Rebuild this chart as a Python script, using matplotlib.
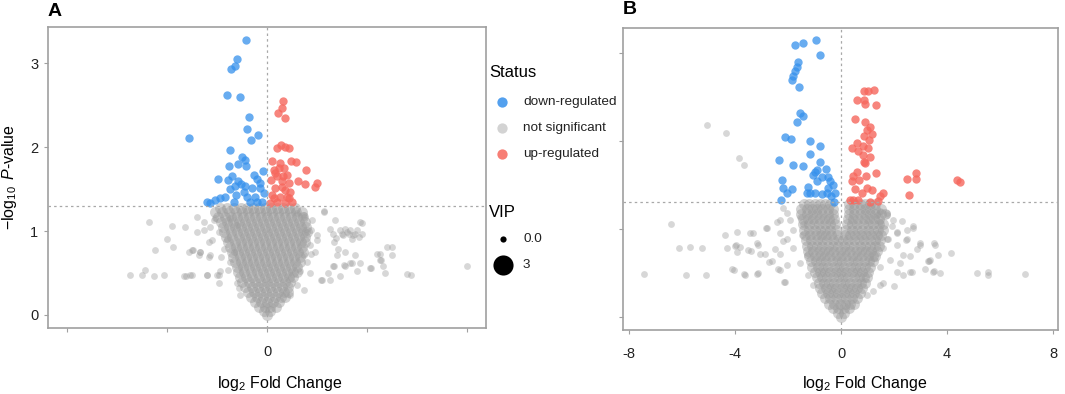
import numpy as np
import matplotlib.pyplot as plt

plt.rcParams['font.family'] = ['Liberation Sans', 'DejaVu Sans']
plt.rcParams['mathtext.fontset'] = 'custom'
plt.rcParams['mathtext.rm'] = 'Liberation Sans'
plt.rcParams['mathtext.it'] = 'Liberation Sans:italic'
plt.rcParams['axes.unicode_minus'] = False

# ---------------- panel A ----------------
a_down_x = [-0.42, -0.61, -0.65, -0.72, -0.80, -0.55, -0.37, -0.40, -0.18, -0.33,
            -1.56, -0.74, -0.50, -0.45, -0.76, -0.59, -0.42, -0.09, -0.71, -0.27,
            -0.99, -0.78, -0.21, -0.14, -0.53, -0.44, -0.64, -0.74, -0.31, -0.15,
            -0.84, -0.62, -0.41, -1.04, -1.21, -1.14, -0.67, -0.34, -0.21, -0.11,
            -0.24, -0.47, -0.58, -0.07, -0.94]
a_down_y = [3.27, 3.05, 2.97, 2.93, 2.62, 2.60, 2.36, 2.21, 2.14, 2.09,
            2.11, 1.96, 1.88, 1.85, 1.78, 1.80, 1.77, 1.72, 1.66, 1.67,
            1.62, 1.61, 1.62, 1.57, 1.56, 1.54, 1.54, 1.50, 1.51, 1.51,
            1.41, 1.43, 1.41, 1.37, 1.35, 1.33, 1.35, 1.35, 1.35, 1.34,
            1.41, 1.47, 1.59, 1.45, 1.39]
a_up_x = [0.31, 0.29, 0.21, 0.36, 0.19, 0.27, 0.36, 0.44, 0.09, 0.26,
          0.47, 0.57, 0.77, 0.13, 0.33, 0.19, 0.39, 0.08, 0.29, 0.61,
          0.76, 0.99, 0.96, 0.16, 0.36, 0.46, 0.09, 0.26, 0.43, 0.06,
          0.19, 0.36, 0.49, 0.16, 0.29, 0.13, 0.39, 0.23, 0.31, 0.43]
a_up_y = [2.55, 2.47, 2.40, 2.35, 1.99, 2.03, 2.00, 1.99, 1.83, 1.81,
          1.83, 1.82, 1.73, 1.73, 1.75, 1.65, 1.67, 1.61, 1.59, 1.59,
          1.56, 1.57, 1.53, 1.51, 1.49, 1.47, 1.43, 1.41, 1.39, 1.33,
          1.35, 1.33, 1.35, 1.69, 1.53, 1.39, 1.41, 1.75, 1.65, 1.57]

# dense not-significant cone, read row by row (y, x values)
a_core = [
    (0.00, [0.0]),
    (0.05, [-0.07, 0.06]),
    (0.10, [-0.17, -0.05, 0.06, 0.17]),
    (0.15, [-0.24, -0.12, 0.0, 0.12, 0.23]),
    (0.21, [-0.32, -0.2, -0.08, 0.04, 0.16, 0.28, 0.36]),
    (0.27, [-0.38, -0.26, -0.14, -0.02, 0.1, 0.22, 0.34, 0.42]),
    (0.33, [-0.44, -0.31, -0.19, -0.07, 0.05, 0.17, 0.29, 0.41]),
    (0.39, [-0.5, -0.37, -0.24, -0.12, 0.0, 0.12, 0.24, 0.36, 0.46]),
    (0.45, [-0.55, -0.42, -0.3, -0.17, -0.05, 0.07, 0.19, 0.31, 0.43, 0.52]),
    (0.51, [-0.58, -0.46, -0.33, -0.21, -0.09, 0.03, 0.15, 0.27, 0.39, 0.51, 0.6]),
    (0.57, [-0.6, -0.48, -0.36, -0.24, -0.12, 0.0, 0.12, 0.24, 0.36, 0.48, 0.6]),
    (0.63, [-0.64, -0.52, -0.4, -0.28, -0.16, -0.04, 0.08, 0.2, 0.32, 0.44, 0.56, 0.66]),
    (0.69, [-0.68, -0.55, -0.43, -0.31, -0.19, -0.07, 0.05, 0.17, 0.29, 0.41, 0.53, 0.66]),
    (0.75, [-0.7, -0.58, -0.46, -0.34, -0.22, -0.1, 0.02, 0.14, 0.26, 0.38, 0.5, 0.62, 0.72]),
    (0.81, [-0.74, -0.62, -0.5, -0.38, -0.26, -0.14, -0.02, 0.1, 0.22, 0.34, 0.46, 0.58, 0.7]),
    (0.87, [-0.78, -0.65, -0.53, -0.41, -0.29, -0.17, -0.05, 0.07, 0.19, 0.31, 0.43, 0.55, 0.68, 0.76]),
    (0.93, [-0.82, -0.7, -0.57, -0.45, -0.33, -0.21, -0.09, 0.03, 0.15, 0.27, 0.39, 0.51, 0.63, 0.75]),
    (0.99, [-0.86, -0.73, -0.61, -0.49, -0.37, -0.25, -0.13, -0.01, 0.11, 0.23, 0.35, 0.47, 0.59, 0.71, 0.79]),
    (1.05, [-0.88, -0.76, -0.64, -0.52, -0.4, -0.28, -0.16, -0.04, 0.08, 0.2, 0.32, 0.44, 0.56, 0.68, 0.78]),
    (1.11, [-0.92, -0.8, -0.68, -0.56, -0.44, -0.32, -0.2, -0.08, 0.04, 0.16, 0.28, 0.4, 0.52, 0.64, 0.75]),
    (1.17, [-0.98, -0.85, -0.72, -0.6, -0.48, -0.36, -0.24, -0.12, 0.0, 0.12, 0.24, 0.36, 0.48, 0.6, 0.72]),
    (1.23, [-1.05, -0.9, -0.76, -0.62, -0.5, -0.38, -0.26, -0.14, -0.02, 0.1, 0.22, 0.34, 0.46, 0.58, 0.7]),
    (1.28, [-0.95, -0.8, -0.66, -0.52, -0.4, -0.28, -0.16, -0.04, 0.08, 0.2, 0.32, 0.44, 0.56]),
]

# scattered not-significant points (x, y)
a_ns = [(-2.37, 1.11), (-1.91, 1.06), (-1.65, 1.05), (-2.01, 0.90), (-2.24, 0.77),
        (-1.89, 0.81), (-1.48, 0.77), (-1.35, 0.75), (-2.44, 0.54), (-2.75, 0.48),
        (-2.51, 0.48), (-2.27, 0.46), (-1.62, 0.46), (-1.51, 0.48), (-1.20, 0.48),
        (-1.00, 0.48), (-0.96, 0.38), (-1.27, 1.01), (-1.06, 1.13), (-1.17, 0.69),
        (-1.10, 0.89), (-0.93, 0.69), (-1.41, 1.17), (-0.79, 0.54), (-1.14, 1.05),
        (-0.97, 0.99), (-1.27, 1.11), (-0.81, 0.91), (-0.87, 0.79), (-1.14, 0.71),
        (-0.74, 0.63), (-1.51, 0.77), (-1.34, 0.75), (-1.17, 0.87), (-0.94, 0.52),
        (-0.97, 0.48), (-1.21, 0.48), (-0.61, 0.38), (-0.54, 0.24), (-0.57, 0.32),
        (-1.04, 1.15), (-0.74, 1.15), (-0.61, 1.07), (-0.67, 0.75), (-2.07, 0.48),
        (-1.57, 0.75), (-1.37, 0.71), (-1.41, 0.99), (-1.67, 0.46), (-1.54, 0.48),
        (1.14, 1.24), (1.35, 1.13), (1.89, 1.10), (1.32, 0.97), (1.45, 1.01),
        (1.56, 1.03), (1.66, 1.01), (1.76, 0.97), (1.83, 0.93), (1.69, 0.91),
        (1.52, 0.95), (1.38, 0.92), (1.63, 0.97), (1.80, 1.01), (1.59, 0.99),
        (1.49, 0.97), (1.72, 0.95), (1.42, 0.79), (1.56, 0.75), (1.76, 0.71),
        (1.32, 0.58), (1.56, 0.58), (1.69, 0.62), (2.07, 0.56), (2.25, 0.73),
        (2.28, 0.65), (2.32, 0.58), (2.49, 0.81), (2.49, 0.72), (2.35, 0.50),
        (2.80, 0.49), (2.87, 0.48), (4.00, 0.58), (1.07, 0.42), (1.21, 0.50),
        (0.87, 0.73), (1.00, 0.89), (0.73, 1.17), (0.87, 1.01), (0.73, 0.30),
        (0.59, 1.21), (1.90, 0.97), (0.73, 1.19), (0.89, 1.13), (1.13, 1.23),
        (0.79, 0.99), (0.99, 0.95), (0.86, 0.83), (0.73, 0.71), (0.96, 0.75),
        (0.79, 0.63), (0.66, 0.52), (0.86, 0.50), (0.59, 0.36), (0.46, 0.24),
        (1.26, 1.03), (1.33, 0.87), (1.39, 0.71), (1.33, 0.58), (1.53, 0.60),
        (1.66, 0.62), (1.86, 0.62), (1.46, 0.46), (1.26, 0.42), (1.09, 0.42),
        (1.79, 0.52), (2.19, 0.73), (2.26, 0.65), (2.39, 0.81), (2.06, 0.56),
        (1.86, 1.11)]

# ---------------- panel B ----------------
b_down_x = [-1.74, -1.42, -0.94, -0.79, -1.61, -1.67, -1.74, -1.80, -1.84, -1.57,
            -1.55, -1.42, -1.65, -2.11, -1.89, -1.17, -0.79, -1.17, -2.35, -1.82,
            -1.45, -0.79, -0.57, -0.98, -1.07, -0.73, -0.48, -2.24, -0.89, -0.42,
            -0.29, -2.18, -1.84, -1.23, -0.48, -2.05, -1.29, -0.98, -0.73, -0.52,
            -0.23, -2.28, -0.39, -0.25, -1.17, -0.92]
b_down_y = [3.09, 3.11, 3.14, 2.97, 2.89, 2.84, 2.79, 2.74, 2.69, 2.61,
            2.31, 2.28, 2.21, 2.04, 2.02, 2.00, 1.94, 1.85, 1.78, 1.73,
            1.71, 1.76, 1.68, 1.65, 1.61, 1.59, 1.59, 1.55, 1.54, 1.54,
            1.50, 1.46, 1.45, 1.48, 1.46, 1.41, 1.41, 1.41, 1.40, 1.41,
            1.41, 1.33, 1.37, 1.31, 1.41, 1.67]
b_up_x = [0.87, 1.26, 1.03, 0.62, 0.87, 0.92, 1.31, 0.53, 0.91, 1.09,
          0.97, 1.16, 0.87, 1.07, 0.59, 0.84, 0.40, 0.65, 1.03, 0.82,
          1.09, 0.87, 0.59, 0.46, 0.94, 1.31, 0.40, 0.69, 2.48, 2.83,
          2.83, 4.37, 4.49, 2.58, 0.53, 0.97, 1.16, 1.57, 1.47, 0.34,
          0.65, 1.09, 1.41, 0.78, 0.91, 0.46]
b_up_y = [2.57, 2.58, 2.56, 2.46, 2.46, 2.42, 2.41, 2.25, 2.21, 2.16,
          2.12, 2.08, 2.05, 2.01, 1.98, 1.94, 1.92, 1.88, 1.92, 1.84,
          1.82, 1.76, 1.65, 1.60, 1.60, 1.63, 1.54, 1.56, 1.57, 1.63,
          1.57, 1.55, 1.53, 1.39, 1.45, 1.46, 1.44, 1.41, 1.37, 1.33,
          1.33, 1.31, 1.32, 1.41, 1.75, 1.33]

b_core = [
    (0.00, [0.0]),
    (0.05, [-0.12, 0.12]),
    (0.10, [-0.3, -0.1, 0.1, 0.3]),
    (0.15, [-0.45, -0.25, -0.05, 0.15, 0.35, 0.5]),
    (0.21, [-0.6, -0.4, -0.2, 0.0, 0.2, 0.4, 0.6]),
    (0.27, [-0.7, -0.5, -0.3, -0.1, 0.1, 0.3, 0.5, 0.72]),
    (0.33, [-0.78, -0.58, -0.38, -0.18, 0.02, 0.22, 0.42, 0.62, 0.8]),
    (0.39, [-0.85, -0.65, -0.45, -0.25, -0.05, 0.15, 0.35, 0.55, 0.75, 0.9]),
    (0.45, [-0.92, -0.72, -0.52, -0.32, -0.12, 0.08, 0.28, 0.48, 0.68, 0.88, 0.97]),
    (0.51, [-1.0, -0.8, -0.6, -0.4, -0.2, 0.0, 0.2, 0.4, 0.6, 0.8, 1.0]),
    (0.57, [-1.08, -0.88, -0.68, -0.48, -0.28, -0.08, 0.12, 0.32, 0.52, 0.72, 0.92, 1.1]),
    (0.63, [-1.15, -0.95, -0.75, -0.55, -0.35, -0.15, 0.05, 0.25, 0.45, 0.65, 0.85, 1.05, 1.2]),
    (0.69, [-1.2, -1.0, -0.8, -0.6, -0.4, -0.2, 0.0, 0.2, 0.4, 0.6, 0.8, 1.0, 1.2, 1.3]),
    (0.75, [-1.25, -1.05, -0.85, -0.65, -0.45, -0.25, -0.05, 0.15, 0.35, 0.55, 0.75, 0.95, 1.15, 1.35]),
    (0.81, [-1.3, -1.1, -0.9, -0.7, -0.5, -0.3, -0.1, 0.1, 0.3, 0.5, 0.7, 0.9, 1.1, 1.3, 1.45]),
    (0.87, [-1.32, -1.12, -0.92, -0.72, -0.52, -0.32, -0.12, 0.08, 0.28, 0.48, 0.68, 0.88, 1.08, 1.28, 1.48]),
    (0.93, [-1.36, -1.16, -0.96, -0.76, -0.56, -0.36, -0.16, 0.14, 0.34, 0.54, 0.74, 0.94, 1.14, 1.34, 1.52]),
    (0.99, [-1.4, -1.2, -1.0, -0.8, -0.6, -0.4, -0.2, 0.2, 0.4, 0.6, 0.8, 1.0, 1.2, 1.4, 1.6]),
    (1.05, [-1.42, -1.22, -1.02, -0.82, -0.62, -0.42, -0.22, 0.22, 0.42, 0.62, 0.82, 1.02, 1.22, 1.42, 1.6]),
    (1.11, [-1.45, -1.25, -1.05, -0.85, -0.65, -0.45, -0.25, 0.25, 0.45, 0.65, 0.85, 1.05, 1.25, 1.45]),
    (1.17, [-1.5, -1.3, -1.1, -0.9, -0.7, -0.5, -0.3, 0.3, 0.5, 0.7, 0.9, 1.1, 1.3, 1.5, 1.65]),
    (1.23, [-1.5, -1.3, -1.1, -0.9, -0.7, -0.5, -0.3, 0.3, 0.5, 0.7, 0.9, 1.1, 1.3, 1.5]),
    (1.28, [-1.4, -1.2, -1.0, -0.8, -0.6, -0.4, 0.3, 0.5, 0.7, 0.9, 1.1, 1.3]),
]

b_ns = [(-6.40, 1.06), (-6.12, 0.78), (-5.69, 0.79), (-5.26, 0.78), (-7.43, 0.49),
        (-5.84, 0.48), (-5.08, 0.48), (-4.37, 0.93), (-3.92, 0.97), (-3.45, 0.95),
        (-4.30, 0.78), (-4.01, 0.80), (-3.95, 0.82), (-3.82, 0.79), (-3.92, 0.74),
        (-3.41, 0.75), (-4.05, 0.53), (-3.61, 0.48), (-5.07, 2.18), (-4.34, 2.09),
        (-3.85, 1.80), (-3.66, 1.73), (-3.18, 0.84), (-2.83, 1.01), (-2.43, 1.08),
        (-2.30, 0.95), (-3.06, 0.72), (-2.71, 0.62), (-2.37, 0.55), (-2.15, 0.40),
        (-4.12, 0.54), (-3.66, 0.49), (-3.18, 0.49), (-2.05, 0.88), (-2.49, 0.77),
        (-2.18, 1.24), (-2.05, 1.18), (-2.30, 1.10), (-1.92, 1.10), (-1.55, 1.14),
        (-1.80, 0.99), (-1.48, 0.93), (-2.18, 0.86), (-1.80, 0.78), (-1.29, 0.70),
        (-2.30, 0.72), (-2.62, 0.63), (-2.05, 0.59), (-1.55, 0.61), (-1.23, 0.48),
        (-1.04, 0.36), (-2.80, 1.01), (-3.31, 0.95), (-2.87, 0.72), (-3.12, 0.82),
        (-3.50, 0.76), (-3.12, 0.50), (-2.11, 0.40), (-2.30, 0.53), (-1.42, 1.05),
        (3.52, 0.84), (4.15, 0.73), (3.67, 0.70), (3.33, 0.63), (3.17, 0.55),
        (3.51, 0.52), (3.74, 0.50), (5.14, 0.50), (5.56, 0.51), (5.56, 0.48),
        (6.95, 0.49), (2.98, 0.84), (2.29, 1.09), (2.73, 1.01), (2.44, 0.87),
        (2.86, 0.77), (3.29, 0.64), (2.60, 0.51), (2.01, 0.35), (1.47, 0.36),
        (1.85, 0.65), (2.23, 0.61), (1.72, 1.18), (1.47, 1.20), (1.97, 1.10),
        (2.10, 0.95), (1.78, 0.88), (2.48, 0.99), (1.35, 1.16), (1.72, 1.16),
        (1.47, 1.08), (1.91, 1.03), (2.10, 0.97), (1.72, 0.89), (2.10, 0.82),
        (1.60, 0.78), (2.35, 0.70), (1.47, 0.57), (2.10, 0.51), (1.60, 0.38),
        (1.22, 0.29), (0.97, 0.25), (2.73, 1.03), (2.60, 0.69), (2.98, 0.82),
        (2.67, 0.51), (3.36, 0.65), (3.48, 0.51), (3.55, 0.82), (2.48, 0.89),
        (2.35, 0.48)]

status_labels = ['down-regulated', 'not significant', 'up-regulated']
vip_labels = ['0.0', '3']

c_down = '#3590EC'
c_ns = '#9C9C9C'
c_up = '#F6675D'
line_c = '#A8A8A8'
frame_c = '#A0A0A0'


def rows_to_xy(rows):
    xs, ys = [], []
    for y, row in rows:
        xs += row
        ys += [y] * len(row)
    return np.array(xs), np.array(ys)


def volcano(ax, core, ns, dx, dy, ux, uy):
    cx, cy = rows_to_xy(core)
    nx, ny = np.array(ns).T
    ax.scatter(cx, cy, s=62, color=c_ns, alpha=0.45, lw=0, zorder=1)
    ax.scatter(nx, ny, s=24, color=c_ns, alpha=0.4, lw=0, zorder=1)
    ax.scatter(dx, dy, s=36, color=c_down, alpha=0.75, lw=0, zorder=2)
    ax.scatter(ux, uy, s=36, color=c_up, alpha=0.8, lw=0, zorder=2)
    ax.axhline(1.3, color=line_c, lw=0.9, ls=(0, (2, 2.5)), zorder=3)
    ax.axvline(0, color=line_c, lw=0.9, ls=(0, (2, 2.5)), zorder=3)
    for sp in ax.spines.values():
        sp.set_color(frame_c)
        sp.set_linewidth(1.2)
    ax.tick_params(colors=frame_c, length=3, width=0.8, labelcolor='#222222',
                   labelsize=10.5, pad=9)
    ax.set_yticks([0, 1, 2, 3])


fig = plt.figure(figsize=(10.65, 3.94), dpi=100)

axA = fig.add_axes([48 / 1065, 66 / 394, 438 / 1065, 301 / 394])
volcano(axA, a_core, a_ns, a_down_x, a_down_y, a_up_x, a_up_y)
axA.set_xlim(-4.38, 4.38)
axA.set_ylim(-0.155, 3.43)
axA.set_xticks([-4, -2, 0, 2, 4])
axA.set_xticklabels(['', '', '0', '', ''])
axA.tick_params(axis='y', pad=4)
axA.set_ylabel(r'$-\log_{10}$ $\it{P}$-value', fontsize=11.5)
axA.yaxis.set_label_coords(-0.066, 0.5)
axA.set_xlabel(r'log$_2$ Fold Change', fontsize=11.5)
axA.xaxis.set_label_coords(0.53, -0.152)

axB = fig.add_axes([623 / 1065, 64 / 394, 435 / 1065, 302 / 394])
volcano(axB, b_core, b_ns, b_down_x, b_down_y, b_up_x, b_up_y)
axB.set_xlim(-8.23, 8.19)
axB.set_ylim(-0.148, 3.28)
axB.set_xticks([-8, -4, 0, 4, 8])
axB.set_yticklabels([])
axB.set_xlabel(r'log$_2$ Fold Change', fontsize=11.5)
axB.xaxis.set_label_coords(0.555, -0.145)

fig.text(48 / 1065, 1 - 12 / 394, 'A', fontsize=14, fontweight='bold', va='center')
fig.text(623 / 1065, 1 - 10 / 394, 'B', fontsize=14, fontweight='bold', va='center')

# legend drawn in figure pixel space
leg = fig.add_axes([0, 0, 1, 1])
leg.set_xlim(0, 1065)
leg.set_ylim(394, 0)
leg.axis('off')
leg.patch.set_alpha(0)
leg.text(489, 72, 'Status', fontsize=12, va='center')
for yy, lab, col, al in zip([102, 128, 154], status_labels,
                            [c_down, '#C8C8C8', c_up], [0.85, 0.8, 0.85]):
    leg.scatter([502], [yy], s=55, color=col, alpha=al, lw=0)
    leg.text(523, yy, lab, fontsize=9.7, va='center', color='#222222')
leg.text(489, 212, 'VIP', fontsize=12, va='center')
for yy, lab, sz in zip([239, 265], vip_labels, [20, 210]):
    leg.scatter([503], [yy], s=sz, color='black', lw=0)
    leg.text(523, yy, lab, fontsize=9.7, va='center', color='#222222')

fig.savefig('out.png', dpi=100)
